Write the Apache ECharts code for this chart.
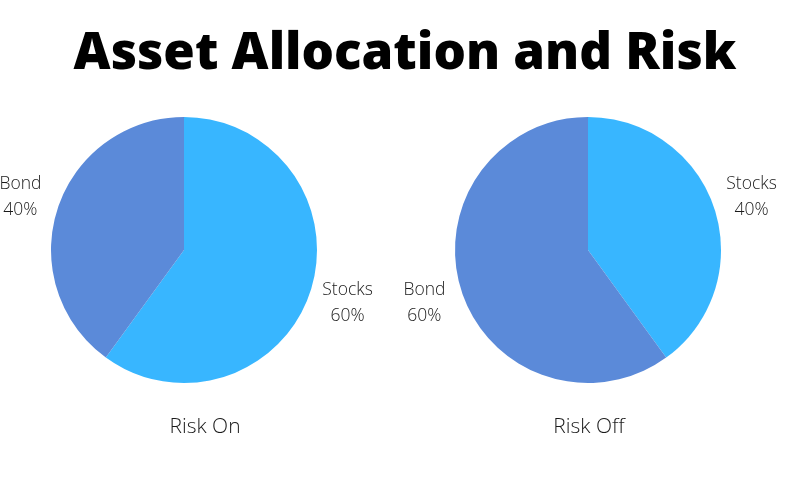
<!DOCTYPE html>
<html>
<head>
<meta charset="utf-8">
<script src="https://cdn.jsdelivr.net/npm/echarts@6/dist/echarts.min.js"></script>
<style>
html,body{margin:0;padding:0;background:#fff;}
#c{width:800px;height:500px;}
</style>
</head>
<body>
<div id="c"></div>
<script>
const titleText = 'Asset Allocation and Risk';
const categories = ['Stocks', 'Bond'];
const riskOnValues = [60, 40];
const riskOffValues = [40, 60];
const pieNames = ['Risk On', 'Risk Off'];
const colors = ['#38B6FF', '#5B8AD9'];

const FONT = '"Open Sans", sans-serif';
const centers = [[184, 250], [588, 250]];

function mkData(vals) {
  return categories.map((c, i) => ({ name: c, value: vals[i], itemStyle: { color: colors[i] } }));
}
function ghostData(vals) {
  return categories.map((c, i) => ({ name: c, value: vals[i], itemStyle: { color: 'rgba(0,0,0,0)' } }));
}

const allVals = [riskOnValues, riskOffValues];
const series = [];
allVals.forEach((vals, k) => {
  series.push({
    type: 'pie',
    center: centers[k],
    radius: [0, 133],
    startAngle: 90,
    clockwise: true,
    silent: true,
    label: { show: false },
    labelLine: { show: false },
    emphasis: { disabled: true },
    data: mkData(vals)
  });
  series.push({
    type: 'pie',
    center: centers[k],
    radius: [163, 175],
    startAngle: 90,
    clockwise: true,
    silent: true,
    label: {
      show: true,
      position: 'inside',
      formatter: '{a|{b}}\n{a|{c}%}',
      rich: {
        a: {
          fontFamily: FONT,
          fontSize: 17.5,
          fontWeight: 300,
          color: '#1a1a1a',
          lineHeight: 26,
          align: 'center'
        }
      }
    },
    labelLine: { show: false },
    emphasis: { disabled: true },
    data: ghostData(vals)
  });
});

const chart = echarts.init(document.getElementById('c'), null, { renderer: 'canvas' });
chart.setOption({
  backgroundColor: '#fff',
  animation: false,
  title: [
    {
      text: titleText,
      left: 400, top: 24,
      textAlign: 'center',
      textStyle: { fontFamily: FONT, fontSize: 51, fontWeight: 800, color: '#000' }
    },
    {
      text: pieNames[0],
      left: 200, top: 412,
      textAlign: 'center',
      textStyle: { fontFamily: FONT, fontSize: 21, fontWeight: 300, color: '#1a1a1a' }
    },
    {
      text: pieNames[1],
      left: 584, top: 412,
      textAlign: 'center',
      textStyle: { fontFamily: FONT, fontSize: 21, fontWeight: 300, color: '#1a1a1a' }
    }
  ],
  series: series
});
</script>
</body>
</html>
